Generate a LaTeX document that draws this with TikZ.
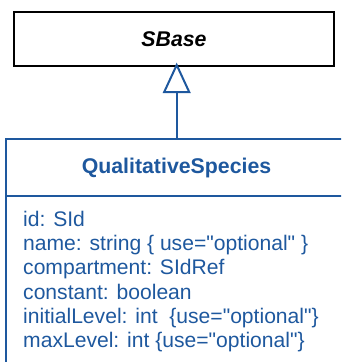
\documentclass[tikz,border=0pt]{standalone}
\usepackage{fontspec}
\setmainfont{Liberation Sans}[Ligatures=TeXOff]
\definecolor{umlblue}{RGB}{30,88,158}
\begin{document}
\begin{tikzpicture}[x=1pt,y=-1pt,
  boxline/.style={line width=2pt},
  body/.style={font=\fontsize{21.1}{24}\selectfont, text=umlblue, anchor=base west, inner sep=0pt}]
\useasboundingbox (0,0) rectangle (341,362);
\clip (0,0) rectangle (341,362);
% SBase
\node[draw=black, boxline, minimum width=320pt, minimum height=54pt, inner sep=0pt,
      font=\fontsize{21.3}{24}\selectfont\bfseries\itshape] (sbase) at (174,39) {SBase};
% QualitativeSpecies box
\draw[draw=umlblue, boxline] (5.5,375) -- (5.5,138.5) -- (360,138.5);
\draw[draw=umlblue, boxline] (5.5,196) -- (360,196);
\node[font=\fontsize{21.3}{24}\selectfont\bfseries, text=umlblue, inner sep=0pt, anchor=base] (qs) at (176.5,173) {QualitativeSpecies};
\coordinate (qtop) at (176.7,138.5);
\coordinate (tip) at (176.7,65);
\coordinate (tbase) at (176.7,92);
\node[body] (a1) at (23,226) {id: SId};
\node[body] (a2) at (23,250) {name: string \{ use="optional" \}};
\node[body] (a3) at (23,274.5) {compartment: SIdRef};
\node[body] (a4) at (23,299) {constant: boolean};
\node[body] (a5) at (23,323) {initialLevel: int \ \{use="optional"\}};
\node[body] (a6) at (23,347) {maxLevel: int \{use="optional"\}};
% generalization arrow
\draw[draw=umlblue, line width=2pt] (qtop) -- (tbase);
\draw[draw=umlblue, line width=2pt, fill=white, line join=miter] (tip) -- (164.2,92) -- (189.2,92) -- cycle;
\end{tikzpicture}
\end{document}
